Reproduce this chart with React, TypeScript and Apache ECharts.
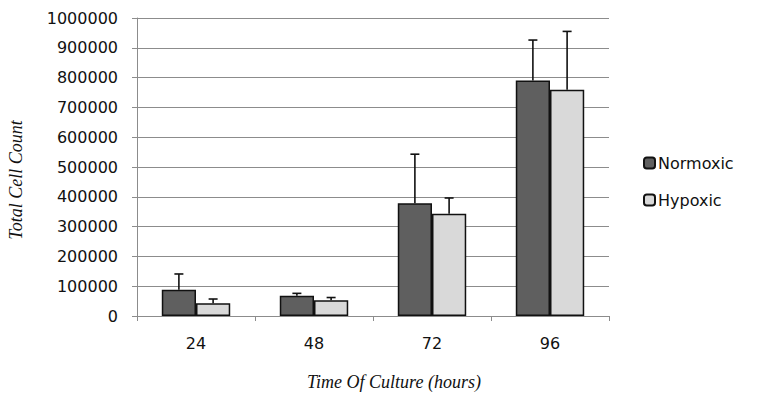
import React, { useEffect, useRef } from "react";
import * as echarts from "echarts";

const categories = ["24", "48", "72", "96"];
const normoxic = [88000, 68000, 378000, 790000];
const hypoxic = [43000, 53000, 343000, 759000];
const normoxicErr = [53000, 8000, 165000, 136000];
const hypoxicErr = [14000, 9000, 53000, 196000];
const yTicks = { min: 0, max: 1000000, interval: 100000 };

const BAR_GAP_PCT = 42;

function errData(means: number[], errs: number[]) {
  return means.map((m, i) => [i, m, m + errs[i]]);
}

function makeErrSeries(name: string, means: number[], errs: number[], side: number) {
  return {
    type: "custom",
    name: name + " err",
    z: 5,
    silent: true,
    encode: { x: 0, y: [1, 2] },
    data: errData(means, errs),
    renderItem: (params: any, api: any) => {
      const idx = api.value(0);
      const base = api.coord([idx, api.value(1)]);
      const top = api.coord([idx, api.value(2)]);
      const bw = api.size([1, 0])[0];
      const barW = (bw * (1 - BAR_GAP_PCT / 100)) / 2;
      const x = base[0] + side * barW / 2;
      const cap = 4.5;
      const style = { stroke: "#111", lineWidth: 1.6 };
      return {
        type: "group",
        children: [
          { type: "line", shape: { x1: x, y1: base[1], x2: x, y2: top[1] }, style },
          { type: "line", shape: { x1: x - cap, y1: top[1], x2: x + cap, y2: top[1] }, style },
        ],
      };
    },
  };
}

export default function App() {
  const ref = useRef<HTMLDivElement>(null);
  useEffect(() => {
    if (!ref.current) return;
    const chart = echarts.init(ref.current, null, { renderer: "svg" });
    const font = "DejaVu Sans";
    chart.setOption({
      animation: false,
      backgroundColor: "#fff",
      grid: { left: 137, right: 155, top: 18, bottom: 102, containLabel: false },
      legend: {
        orient: "vertical",
        left: 638,
        top: 150,
        itemWidth: 11,
        itemHeight: 11,
        itemGap: 21,
        data: ["Normoxic", "Hypoxic"],
        textStyle: { fontFamily: font, fontSize: 16, color: "#111", padding: [0, 0, 0, -2] },
      },
      xAxis: {
        type: "category",
        data: categories,
        axisLine: { lineStyle: { color: "#8c8c8c", width: 1 } },
        axisTick: { show: true, length: 5, alignWithLabel: false, lineStyle: { color: "#8c8c8c" } },
        axisLabel: { fontFamily: font, fontSize: 16, color: "#111", margin: 19 },
        splitLine: { show: false },
      },
      yAxis: {
        type: "value",
        min: yTicks.min,
        max: yTicks.max,
        interval: yTicks.interval,
        axisLine: { show: true, lineStyle: { color: "#8c8c8c", width: 1 } },
        axisTick: { show: true, length: 5, lineStyle: { color: "#8c8c8c" } },
        axisLabel: {
          fontFamily: font,
          fontSize: 16,
          color: "#111",
          margin: 19,
          formatter: (v: number) => String(v),
        },
        splitLine: { show: true, lineStyle: { color: "#8c8c8c", width: 1 } },
      },
      series: [
        {
          name: "Normoxic",
          type: "bar",
          data: normoxic,
          barGap: "0%",
          barCategoryGap: BAR_GAP_PCT + "%",
          itemStyle: { color: "#5f5f5f", borderColor: "#111", borderWidth: 1.5 },
        },
        {
          name: "Hypoxic",
          type: "bar",
          data: hypoxic,
          barGap: "0%",
          barCategoryGap: BAR_GAP_PCT + "%",
          itemStyle: { color: "#d9d9d9", borderColor: "#111", borderWidth: 1.5 },
        },
        makeErrSeries("Normoxic", normoxic, normoxicErr, -1),
        makeErrSeries("Hypoxic", hypoxic, hypoxicErr, 1),
      ],
      graphic: [
        {
          type: "text",
          x: 16,
          y: 180,
          rotation: Math.PI / 2,
          style: {
            text: "Total Cell Count",
            font: "italic 18px 'Liberation Serif'",
            fill: "#111",
            align: "center",
            verticalAlign: "middle",
          },
        },
        {
          type: "text",
          x: 394,
          y: 382,
          style: {
            text: "Time Of Culture (hours)",
            font: "italic 18px 'Liberation Serif'",
            fill: "#111",
            align: "center",
            verticalAlign: "middle",
          },
        },
      ],
    });
    return () => chart.dispose();
  }, []);
  return <div ref={ref} style={{ width: 764, height: 418, position: "absolute", left: 0, top: 0 }} />;
}
